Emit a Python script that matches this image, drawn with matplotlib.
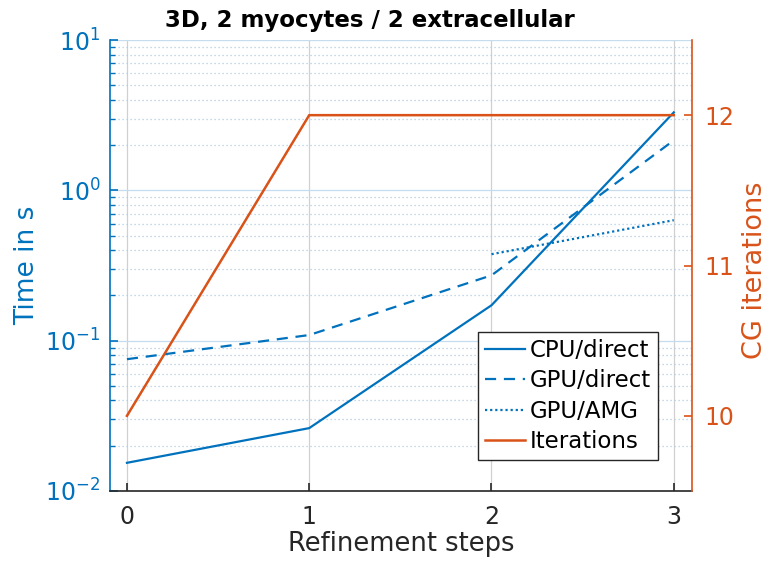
import numpy as np
import matplotlib
matplotlib.use("Agg")
import matplotlib.pyplot as plt
from matplotlib.ticker import LogLocator, NullFormatter

plt.rcParams['font.family'] = ['DejaVu Sans']
plt.rcParams['mathtext.fontset'] = 'dejavusans'

steps = [0, 1, 2, 3]
cpu_direct = [0.0154, 0.0262, 0.172, 3.3]
gpu_direct = [0.0753, 0.109, 0.272, 2.15]
gpu_amg = [np.nan, np.nan, 0.376, 0.633]
iterations = [10, 12, 12, 12]

blue = '#0072BD'
orange = '#D95319'

W, H = 770, 568
fig = plt.figure(figsize=(W/100, H/100), dpi=100)
L, R, T, B = 110, 692, 40, 491
ax = fig.add_axes([L/W, 1-B/H, (R-L)/W, (B-T)/H])
ax2 = ax.twinx()

l1, = ax.plot(steps, cpu_direct, color=blue, lw=1.6, ls='-', label='CPU/direct')
l2, = ax.plot(steps, gpu_direct, color=blue, lw=1.6, ls=(0, (5, 3.5)), label='GPU/direct')
l3, = ax.plot(steps, gpu_amg, color=blue, lw=1.6, ls=(0, (1, 1.3)), label='GPU/AMG')
l4, = ax2.plot(steps, iterations, color=orange, lw=1.8, label='Iterations')

ax.set_yscale('log')
ax.set_ylim(1e-2, 1e1)
ax.set_xlim(-0.093, 3.1)
ax2.set_ylim(9.5, 12.5)

ax.set_xticks(steps)
ax.yaxis.set_major_locator(LogLocator(base=10, numticks=10))
ax.yaxis.set_minor_locator(LogLocator(base=10, subs=np.arange(2, 10), numticks=20))
ax.yaxis.set_minor_formatter(NullFormatter())
ax2.set_yticks([10, 11, 12])

ax.grid(True, which='major', axis='x', color='#d0d0d0', lw=0.9)
ax.grid(True, which='major', axis='y', color='#c6ddef', lw=0.9)
ax.grid(True, which='minor', axis='y', color='#b0cde8', lw=0.9, ls=(0, (1, 2.2)))
ax.set_axisbelow(True)

for a in (ax, ax2):
    a.spines['top'].set_visible(False)
ax.spines['left'].set_color(blue)
ax.spines['left'].set_linewidth(1.2)
ax2.spines['left'].set_visible(False)
ax2.spines['right'].set_color(orange)
ax2.spines['right'].set_linewidth(1.2)
ax.spines['right'].set_visible(False)
ax.spines['bottom'].set_color('#262626')
ax.spines['bottom'].set_linewidth(1.2)
ax2.spines['bottom'].set_visible(False)

ax.tick_params(axis='x', direction='in', length=6, width=1.2, colors='#262626', labelsize=17, pad=10)
ax.tick_params(axis='y', which='major', direction='in', length=6, width=1.2, colors=blue, labelsize=17, pad=7)
ax.tick_params(axis='y', which='minor', direction='in', length=3.5, width=1.0, colors=blue)
ax2.tick_params(axis='y', direction='in', length=6, width=1.2, colors=orange, labelsize=17, pad=9)

ax.set_xlabel('Refinement steps', fontsize=18.5, color='#262626')
ax.xaxis.set_label_coords(0.5, (B-531)/(B-T))
ax.set_ylabel('Time in s', fontsize=19, color=blue)
ax.yaxis.set_label_coords((40-L)/(R-L), 0.5)
ax2.set_ylabel('CG iterations', fontsize=19.5, color=orange)
ax2.yaxis.set_label_coords((742-L)/(R-L), 0.49)

fig.text(370/W, 1-21/H, '3D, 2 myocytes / 2 extracellular', fontsize=16.5,
         fontweight='bold', ha='center', va='center')

leg = ax2.legend(handles=[l1, l2, l3, l4], loc='lower right',
                 bbox_to_anchor=(658/W, 1-460/H), bbox_transform=fig.transFigure,
                 fontsize=16.5, frameon=True, fancybox=False, framealpha=1,
                 edgecolor='#262626', handlelength=1.75, handletextpad=0.2,
                 borderpad=0.3, labelspacing=0.32, borderaxespad=0)
leg.get_frame().set_linewidth(1.0)

fig.savefig('out.png', dpi=100)
